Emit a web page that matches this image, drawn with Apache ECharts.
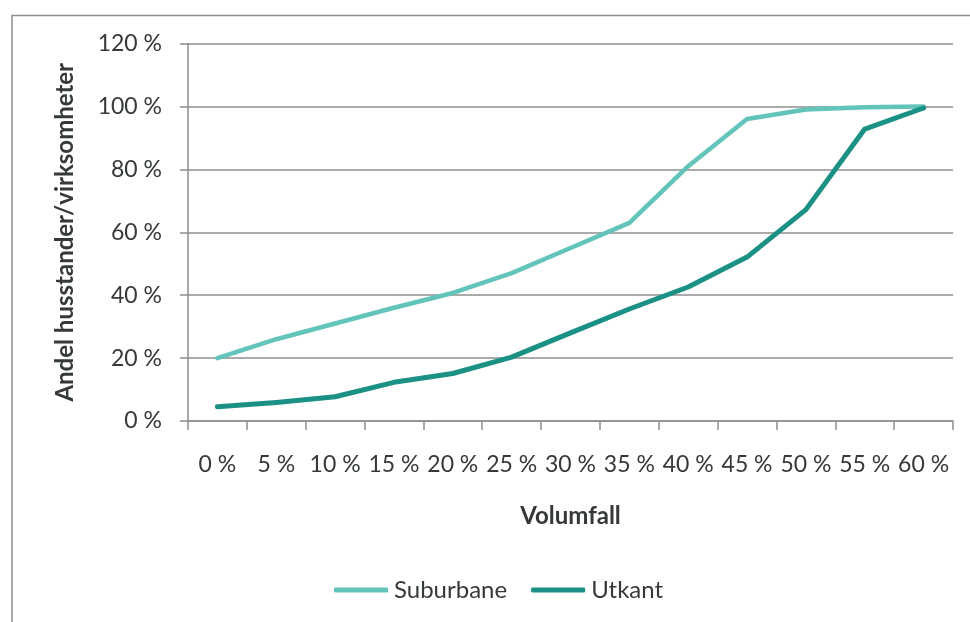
<!DOCTYPE html>
<html>
<head>
<meta charset="utf-8">
<script src="https://cdn.jsdelivr.net/npm/echarts@6/dist/echarts.min.js"></script>
<style>
html,body{margin:0;padding:0;background:#fff;}
#main{width:970px;height:622px;}
</style>
</head>
<body>
<div id="main"></div>
<script>
const categories = ['0 %','5 %','10 %','15 %','20 %','25 %','30 %','35 %','40 %','45 %','50 %','55 %','60 %'];
const suburbane = [20, 26, 31, 36, 40.7, 47, 55, 63, 81, 96, 99, 99.7, 100];
const utkant = [4.5, 5.9, 7.7, 12.3, 15.1, 20.3, 28, 35.6, 42.6, 52.1, 67.2, 92.8, 99.5];
const yTicks = {min: 0, max: 120, interval: 20};

const FONT = 'Lato, "Open Sans", sans-serif';
const TXT = '#353939';
const GRAY = '#8f8f8f';

const chart = echarts.init(document.getElementById('main'), null, {renderer: 'canvas'});
chart.setOption({
  animation: false,
  backgroundColor: '#fff',
  textStyle: {fontFamily: FONT, color: TXT},
  graphic: [{
    type: 'polyline',
    shape: {points: [[12, 640], [12, 15.5], [990, 15.5]]},
    style: {stroke: GRAY, lineWidth: 1.5, fill: null},
    z: -1
  }],
  grid: {left: 188, right: 17, top: 43.5, bottom: 201},
  legend: {
    data: ['Suburbane', 'Utkant'],
    left: 329,
    top: 573,
    icon: 'roundRect',
    itemWidth: 54,
    itemHeight: 5,
    itemGap: 24,
    textStyle: {fontFamily: FONT, fontSize: 24, color: TXT, padding: [0, 0, 0, 1]}
  },
  xAxis: {
    type: 'category',
    data: categories,
    boundaryGap: true,
    name: 'Volumfall',
    nameLocation: 'middle',
    nameGap: 83,
    nameTextStyle: {fontFamily: FONT, fontSize: 24, fontWeight: 'bold', color: TXT},
    axisLine: {show: true, lineStyle: {color: GRAY, width: 1.5}},
    axisTick: {show: true, length: 9, alignWithLabel: false, interval: 0, lineStyle: {color: GRAY, width: 1.5}},
    axisLabel: {interval: 0, margin: 32, fontFamily: FONT, fontSize: 23, color: TXT},
    splitLine: {show: false}
  },
  yAxis: {
    type: 'value',
    min: yTicks.min,
    max: yTicks.max,
    interval: yTicks.interval,
    name: 'Andel husstander/virksomheter',
    nameLocation: 'middle',
    nameRotate: 90,
    nameGap: 111,
    nameTextStyle: {fontFamily: FONT, fontSize: 24, fontWeight: 'bold', color: TXT},
    axisLine: {show: true, lineStyle: {color: GRAY, width: 1.5}},
    axisTick: {show: true, length: 8, lineStyle: {color: GRAY, width: 1.5}},
    axisLabel: {margin: 26, fontFamily: FONT, fontSize: 23, color: TXT, formatter: '{value} %'},
    splitLine: {show: true, lineStyle: {color: GRAY, width: 1.5}}
  },
  series: [
    {
      name: 'Suburbane',
      type: 'line',
      data: suburbane,
      symbol: 'none',
      color: '#62c4ba',
      lineStyle: {width: 4.5, color: '#62c4ba', cap: 'round', join: 'round'},
      z: 3
    },
    {
      name: 'Utkant',
      type: 'line',
      data: utkant,
      symbol: 'none',
      color: '#1b9186',
      lineStyle: {width: 5, color: '#1b9186', cap: 'round', join: 'round'},
      z: 4
    }
  ]
});
</script>
</body>
</html>
